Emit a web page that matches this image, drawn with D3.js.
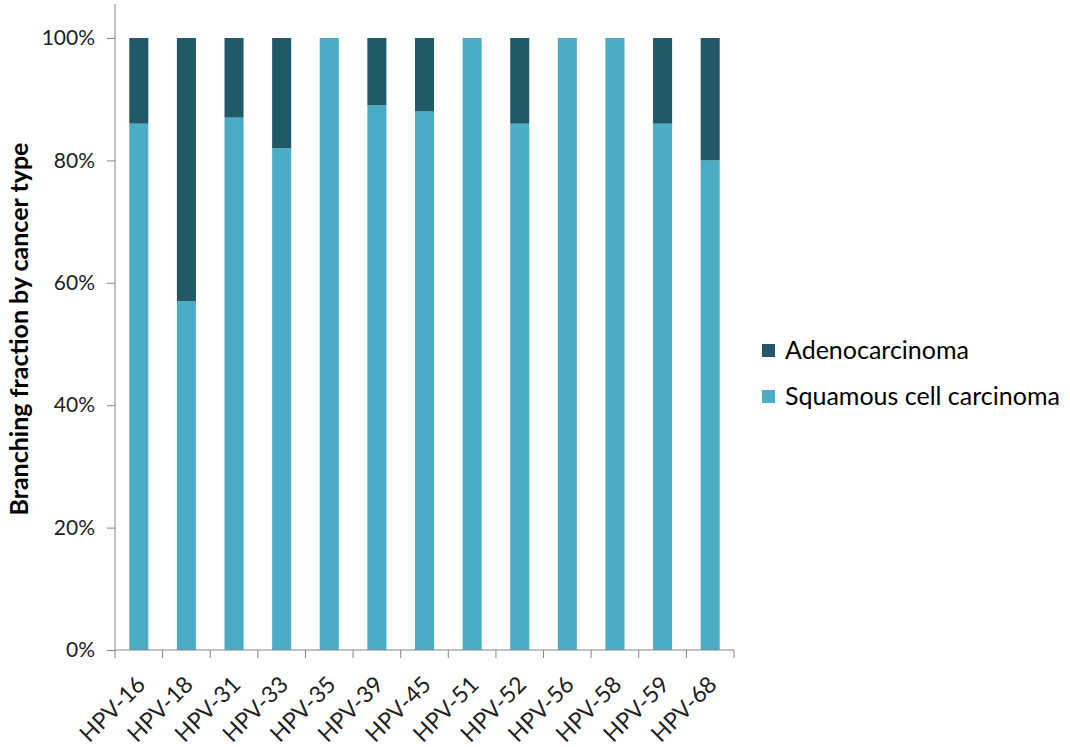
<!DOCTYPE html>
<html>
<head>
<meta charset="utf-8">
<script src="https://cdn.jsdelivr.net/npm/d3@7"></script>
<style>
  body { margin: 0; background: #fff; }
  svg text { font-family: Lato, "Open Sans", sans-serif; }
  .axis path, .axis line { stroke: #868686; }
  .axis text { fill: #222; }
</style>
</head>
<body>
<svg class="chart" width="1070" height="747"></svg>
<script>
const types = ["HPV-16", "HPV-18", "HPV-31", "HPV-33", "HPV-35", "HPV-39", "HPV-45",
  "HPV-51", "HPV-52", "HPV-56", "HPV-58", "HPV-59", "HPV-68"]
const squamous = [86, 57, 87, 82, 100, 89, 88, 100, 86, 100, 100, 86, 80]
const adeno = [14, 43, 13, 18, 0, 11, 12, 0, 14, 0, 0, 14, 20]
const yTicks = [0, 20, 40, 60, 80, 100]
const seriesNames = ["Adenocarcinoma", "Squamous cell carcinoma"]
const colors = { "Adenocarcinoma": "#215968", "Squamous cell carcinoma": "#4BACC6" }

const svg = d3.select("svg.chart")
const plotLeft = 115, plotTop = 38, plotW = 619, plotH = 612

const x = d3.scaleBand()
  .domain(types)
  .range([plotLeft, plotLeft + plotW])
  .paddingInner(0.6)
  .paddingOuter(0.3)

const y = d3.scaleLinear()
  .domain([0, 100])
  .range([plotTop + plotH, plotTop])

const rows = types.map((t, i) => ({ type: t, "Squamous cell carcinoma": squamous[i], "Adenocarcinoma": adeno[i] }))
const stacked = d3.stack().keys(["Squamous cell carcinoma", "Adenocarcinoma"])(rows)

svg.append("g")
  .selectAll("g")
  .data(stacked)
  .enter()
  .append("g")
  .attr("fill", d => colors[d.key])
  .selectAll("rect")
  .data(d => d)
  .enter()
  .append("rect")
  .attr("x", d => x(d.data.type))
  .attr("width", x.bandwidth())
  .attr("y", d => y(d[1]))
  .attr("height", d => y(d[0]) - y(d[1]))

// y axis
const yAxis = svg.append("g")
  .attr("class", "axis")
  .attr("transform", `translate(${plotLeft},0)`)
  .call(d3.axisLeft(y).tickValues(yTicks).tickFormat(d => d + "%").tickSize(8).tickSizeOuter(0))
yAxis.attr("font-family", null).attr("font-size", null)
yAxis.select(".domain").attr("d", `M0,${plotTop - 34}V${plotTop + plotH}`)
yAxis.selectAll("text").attr("font-size", 21).attr("x", -20)

// x axis with ticks at band boundaries
const step = x.step()
const xAxis = svg.append("g")
  .attr("class", "axis")
  .attr("transform", `translate(0,${plotTop + plotH})`)
xAxis.append("line")
  .attr("x1", plotLeft).attr("x2", plotLeft + plotW)
  .attr("y1", 0).attr("y2", 0)
d3.range(types.length + 1).forEach(i => {
  xAxis.append("line")
    .attr("x1", plotLeft + i * step).attr("x2", plotLeft + i * step)
    .attr("y1", 0).attr("y2", 8)
})
xAxis.selectAll("text.lab")
  .data(types)
  .enter()
  .append("text")
  .attr("class", "lab")
  .attr("font-size", 23)
  .attr("text-anchor", "end")
  .attr("transform", d => `translate(${x(d) + x.bandwidth() / 2 + 8},${36}) rotate(-45)`)
  .text(d => d)

// y title
svg.append("text")
  .attr("transform", `translate(28,${plotTop + plotH / 2 - 15}) rotate(-90)`)
  .attr("text-anchor", "middle")
  .attr("font-size", 25)
  .attr("font-weight", "bold")
  .attr("fill", "#000")
  .text("Branching fraction by cancer type")

// legend
const legend = svg.append("g")
  .selectAll("g")
  .data(seriesNames)
  .enter()
  .append("g")
  .attr("transform", (d, i) => `translate(762,${344 + i * 46})`)
legend.append("rect")
  .attr("width", 13).attr("height", 13)
  .attr("fill", d => colors[d])
legend.append("text")
  .attr("x", 23).attr("y", 15)
  .attr("font-size", 25)
  .attr("fill", "#000")
  .text(d => d)
</script>
</body>
</html>
